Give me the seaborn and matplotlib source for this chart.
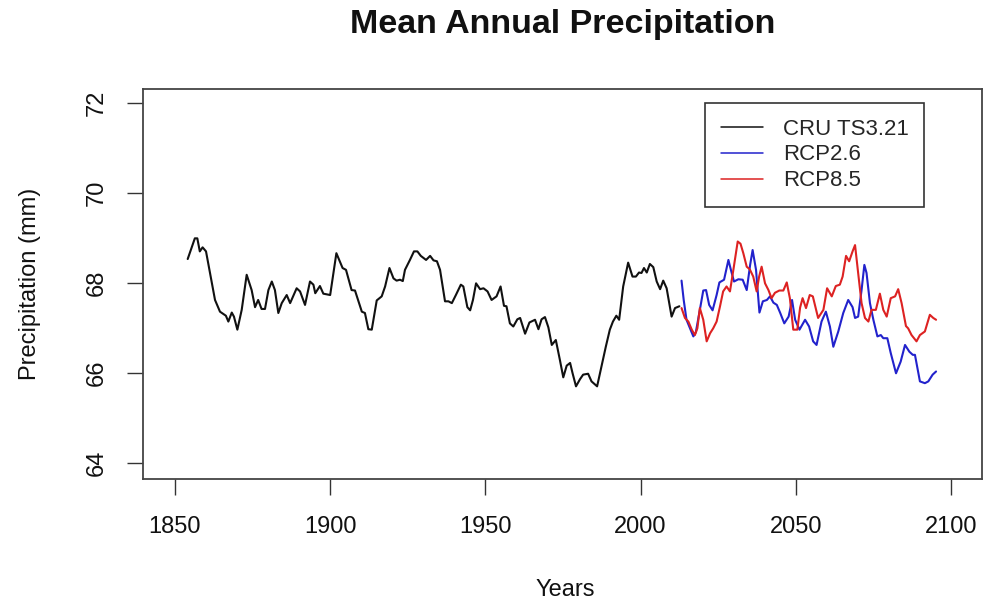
import numpy as np
import pandas as pd
import matplotlib
matplotlib.use("Agg")
import matplotlib.pyplot as plt
from matplotlib.lines import Line2D
import seaborn as sns

# ---------------- data ----------------
cru_years = [1854.1, 1856.4, 1857.2, 1858.0, 1858.9, 1860.0, 1861.3, 1862.9, 1864.5, 1866.4,
             1867.2, 1868.3, 1869.0, 1870.1, 1871.5, 1873.1, 1874.7, 1875.8, 1876.8, 1877.9,
             1879.0, 1880.1, 1881.2, 1882.2, 1883.3, 1884.4, 1886.0, 1887.1, 1889.2, 1890.3,
             1891.9, 1893.5, 1894.6, 1895.2, 1896.7, 1897.8, 1900.0, 1902.0, 1904.0, 1905.1,
             1906.9, 1908.0, 1910.2, 1911.2, 1912.3, 1913.4, 1915.0, 1916.6, 1917.7, 1919.1,
             1920.4, 1921.4, 1922.5, 1923.4, 1924.1, 1925.7, 1927.0, 1928.1, 1929.2, 1930.9,
             1932.2, 1933.3, 1934.4, 1935.4, 1937.0, 1938.1, 1939.2, 1940.5, 1942.1, 1942.9,
             1944.2, 1945.1, 1946.0, 1947.0, 1948.3, 1949.4, 1950.7, 1952.0, 1953.6, 1954.9,
             1956.0, 1956.8, 1957.9, 1959.0, 1960.3, 1961.2, 1962.8, 1964.2, 1966.0, 1967.1,
             1968.1, 1969.2, 1970.3, 1971.4, 1972.7, 1974.0, 1975.1, 1976.2, 1977.3, 1978.1,
             1979.2, 1980.5, 1981.5, 1983.1, 1984.2, 1986.0, 1987.4, 1988.8, 1990.1, 1991.1,
             1992.2, 1993.1, 1994.4, 1996.0, 1997.4, 1998.5, 1999.5, 2000.3, 2001.1, 2002.0,
             2003.0, 2004.1, 2005.2, 2006.3, 2007.3, 2008.4, 2010.0, 2011.1, 2012.5]
cru_vals = [68.53, 68.99, 68.99, 68.70, 68.79, 68.70, 68.22, 67.62, 67.36, 67.27,
            67.14, 67.34, 67.25, 66.96, 67.40, 68.18, 67.84, 67.46, 67.62, 67.42,
            67.42, 67.84, 68.03, 67.84, 67.33, 67.55, 67.73, 67.55, 67.88, 67.81,
            67.51, 68.03, 67.96, 67.77, 67.93, 67.76, 67.73, 68.66, 68.33, 68.29,
            67.84, 67.83, 67.36, 67.33, 66.97, 66.96, 67.61, 67.70, 67.92, 68.33,
            68.10, 68.05, 68.07, 68.04, 68.29, 68.51, 68.70, 68.70, 68.60, 68.51,
            68.60, 68.50, 68.48, 68.29, 67.59, 67.59, 67.55, 67.73, 67.96, 67.92,
            67.46, 67.39, 67.62, 67.99, 67.86, 67.88, 67.81, 67.62, 67.70, 67.92,
            67.49, 67.48, 67.10, 67.03, 67.19, 67.22, 66.87, 67.12, 67.18, 66.97,
            67.19, 67.24, 67.01, 66.62, 66.73, 66.29, 65.90, 66.16, 66.22, 65.99,
            65.70, 65.86, 65.96, 65.98, 65.81, 65.70, 66.14, 66.58, 66.96, 67.14,
            67.27, 67.18, 67.92, 68.45, 68.14, 68.14, 68.23, 68.22, 68.33, 68.23,
            68.42, 68.35, 68.03, 67.86, 68.05, 67.88, 67.25, 67.44, 67.48]

rcp26_years = [2013.2, 2013.9, 2014.8, 2017.0, 2017.8, 2019.1, 2020.2, 2021.1, 2022.1, 2023.2,
               2024.5, 2025.4, 2026.9, 2028.3, 2029.1, 2030.1, 2031.5, 2032.9, 2034.2, 2035.3,
               2036.1, 2037.2, 2038.3, 2039.4, 2040.7, 2041.7, 2042.8, 2043.9, 2045.0, 2046.3,
               2047.7, 2048.8, 2049.8, 2051.2, 2053.0, 2054.3, 2055.6, 2056.7, 2058.3, 2059.7,
               2061.0, 2062.1, 2063.7, 2065.3, 2066.9, 2068.3, 2069.1, 2070.1, 2071.2, 2072.1,
               2072.8, 2073.9, 2075.0, 2076.3, 2077.4, 2078.2, 2079.5, 2080.6, 2082.3, 2083.8,
               2085.2, 2086.6, 2087.7, 2088.4, 2090.0, 2091.6, 2092.7, 2094.1, 2095.2]
rcp26_vals = [68.05, 67.62, 67.18, 66.81, 66.90, 67.40, 67.83, 67.84, 67.51, 67.39,
              67.73, 68.01, 68.07, 68.51, 68.29, 68.03, 68.08, 68.07, 67.84, 68.40,
              68.73, 68.29, 67.34, 67.59, 67.62, 67.70, 67.56, 67.51, 67.33, 67.10,
              67.25, 67.62, 67.18, 66.96, 67.18, 67.03, 66.70, 66.62, 67.14, 67.36,
              67.03, 66.58, 66.92, 67.33, 67.62, 67.46, 67.22, 67.25, 67.84, 68.40,
              68.22, 67.55, 67.18, 66.81, 66.84, 66.77, 66.77, 66.44, 65.99, 66.25,
              66.62, 66.47, 66.40, 66.40, 65.81, 65.77, 65.81, 65.96, 66.03]

rcp85_years = [2013.2, 2014.3, 2015.4, 2016.5, 2017.5, 2018.3, 2019.1, 2020.2, 2021.3, 2022.4,
               2023.4, 2024.5, 2025.6, 2026.6, 2027.7, 2028.8, 2029.9, 2031.3, 2032.2, 2033.1,
               2034.2, 2035.2, 2036.3, 2037.4, 2038.2, 2039.0, 2040.1, 2041.2, 2042.2, 2043.3,
               2044.7, 2046.0, 2047.1, 2048.1, 2049.2, 2050.5, 2051.4, 2052.2, 2053.3, 2054.5,
               2055.5, 2057.2, 2058.9, 2060.1, 2061.6, 2062.9, 2064.2, 2065.1, 2066.2, 2067.2,
               2068.3, 2069.1, 2070.1, 2071.2, 2072.3, 2073.4, 2074.4, 2075.8, 2077.1, 2078.2,
               2079.3, 2080.6, 2082.0, 2083.0, 2084.1, 2085.5, 2086.2, 2087.3, 2088.9, 2090.0,
               2091.6, 2093.2, 2094.3, 2095.2]
rcp85_vals = [67.44, 67.22, 67.14, 66.96, 66.84, 66.99, 67.44, 67.18, 66.70, 66.88,
              66.99, 67.14, 67.48, 67.81, 67.92, 67.81, 68.29, 68.92, 68.87, 68.66,
              68.36, 68.30, 68.14, 67.81, 68.14, 68.36, 67.99, 67.84, 67.66, 67.78,
              67.83, 67.83, 68.01, 67.66, 66.96, 66.96, 67.45, 67.66, 67.44, 67.73,
              67.70, 67.22, 67.40, 67.88, 67.70, 67.93, 67.96, 68.14, 68.60, 68.48,
              68.70, 68.84, 68.22, 67.55, 67.22, 67.14, 67.40, 67.40, 67.76, 67.40,
              67.25, 67.66, 67.70, 67.86, 67.55, 67.04, 66.99, 66.84, 66.70, 66.84,
              66.92, 67.29, 67.22, 67.18]

series_names = ["CRU TS3.21", "RCP2.6", "RCP8.5"]
series_colors = ["#111111", "#2222cc", "#dd2222"]
x_ticks = [1850, 1900, 1950, 2000, 2050, 2100]
y_ticks = [64, 66, 68, 70, 72]

# ---------------- build table ----------------
df = pd.concat([
    pd.DataFrame({"Year": cru_years, "Precipitation": cru_vals, "Series": series_names[0]}),
    pd.DataFrame({"Year": rcp26_years, "Precipitation": rcp26_vals, "Series": series_names[1]}),
    pd.DataFrame({"Year": rcp85_years, "Precipitation": rcp85_vals, "Series": series_names[2]}),
], ignore_index=True)

# ---------------- plot ----------------
sns.set_style("white")
plt.rcParams['font.family'] = ['Liberation Sans', 'DejaVu Sans']

W, H = 988, 605
fig = plt.figure(figsize=(W / 100, H / 100), dpi=100)
fig.patch.set_facecolor("white")
ax = fig.add_axes([143 / W, 1 - 479 / H, 839 / W, 390 / H])

palette = dict(zip(series_names, series_colors))
sns.lineplot(data=df, x="Year", y="Precipitation", hue="Series", palette=palette,
             estimator=None, sort=False, linewidth=1.5, legend=False, ax=ax)

ax.set_xlim(1839.7, 2110.0)
ax.set_ylim(63.64, 72.31)
ax.set_xticks(x_ticks)
ax.set_yticks(y_ticks)
ax.set_xticklabels([str(t) for t in x_ticks])
ax.set_yticklabels([str(t) for t in y_ticks], rotation=90, va="center")
ax.tick_params(axis="both", which="major", bottom=True, left=True, top=False, right=False,
               direction="out", length=11.5, width=1.0, color="#333333",
               labelsize=17, labelcolor="#111111")
ax.tick_params(axis="x", pad=15)
ax.tick_params(axis="y", pad=14)
ax.set_xlabel("")
ax.set_ylabel("")
for s in ax.spines.values():
    s.set_visible(True)
    s.set_color("#444444")
    s.set_linewidth(1.3)

# legend
handles = [Line2D([], [], color=c, lw=1.1) for c in series_colors]
leg = ax.legend(handles, series_names, loc="upper left",
                bbox_to_anchor=((705 - 143) / 839, (479 - 103) / 390),
                fontsize=16, frameon=True, fancybox=False, framealpha=1,
                edgecolor="#333333", borderpad=0.7, labelspacing=0.22,
                handlelength=1.9, handletextpad=0.9, borderaxespad=0)
leg.get_frame().set_linewidth(1.2)

# titles / labels
fig.text(563 / W, 1 - 25 / H, "Mean Annual Precipitation", ha="center", va="center",
         fontsize=24.5, fontweight="bold", color="#111111")
fig.text(565 / W, 1 - 590 / H, "Years", ha="center", va="center", fontsize=17, color="#111111")
fig.text(30 / W, 1 - 284 / H, "Precipitation (mm)", ha="center", va="center",
         rotation=90, fontsize=17, color="#111111")

fig.savefig("out.png", dpi=100, facecolor="white")
